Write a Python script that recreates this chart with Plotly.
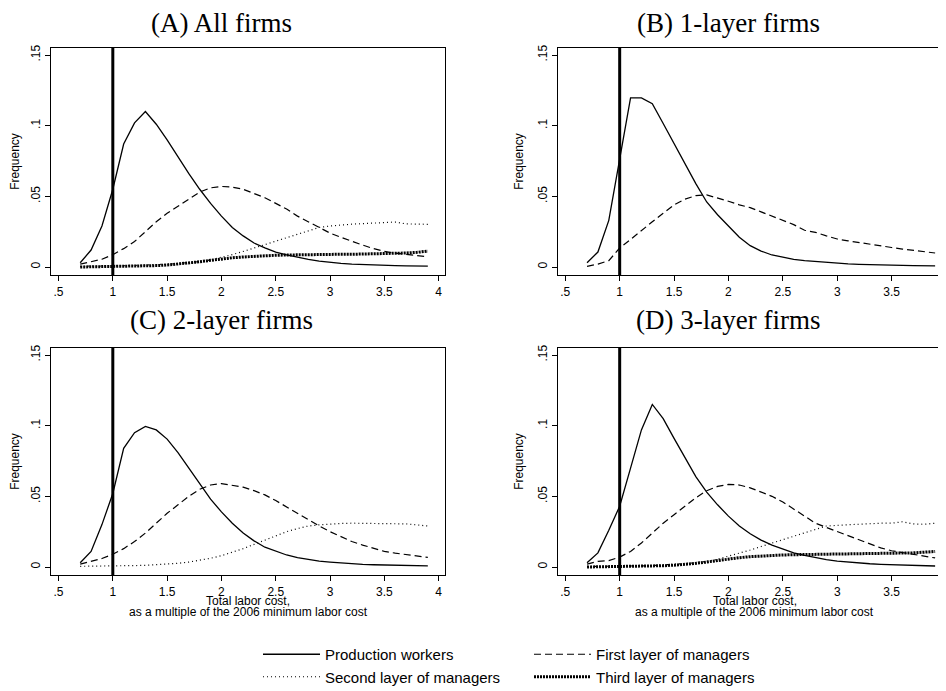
import plotly.graph_objects as go

# ---------------- data ----------------
wage_x = [0.7, 0.8, 0.9, 1.0, 1.1, 1.2, 1.3, 1.4, 1.5, 1.6, 1.7, 1.8, 1.9, 2.0,
          2.1, 2.2, 2.3, 2.4, 2.5, 2.6, 2.7, 2.8, 2.9, 3.0, 3.1, 3.2, 3.3, 3.4,
          3.5, 3.6, 3.7, 3.8, 3.9]

min_wage_multiple = 1.0

series_names = ["Production workers", "First layer of managers",
                "Second layer of managers", "Third layer of managers"]

panel_titles = ["(A) All firms", "(B) 1-layer firms", "(C) 2-layer firms", "(D) 3-layer firms"]

x_title_lines = ["Total labor cost,", "as a multiple of the 2006 minimum labor cost"]

y_tick_vals = [0, 0.05, 0.1, 0.15]
y_tick_text = ["0", ".05", ".1", ".15"]
x_tick_vals = [0.5, 1, 1.5, 2, 2.5, 3, 3.5, 4]
x_tick_text = [".5", "1", "1.5", "2", "2.5", "3", "3.5", "4"]

# Panel A: all firms
prod_A = [0.003, 0.012, 0.029, 0.055, 0.087, 0.102, 0.110, 0.101, 0.090, 0.078, 0.066, 0.055, 0.045, 0.036,
          0.028, 0.022, 0.017, 0.0135, 0.0105, 0.0085, 0.0068, 0.0054, 0.0042, 0.0033, 0.0026, 0.0021, 0.0017,
          0.0014, 0.0012, 0.0010, 0.0008, 0.0007, 0.0006]
first_A = [0.002, 0.0035, 0.0055, 0.0087, 0.013, 0.018, 0.025, 0.032, 0.038, 0.043, 0.048, 0.053, 0.056, 0.057,
           0.0565, 0.055, 0.052, 0.049, 0.045, 0.041, 0.036, 0.032, 0.028, 0.024, 0.021, 0.018, 0.0155,
           0.013, 0.011, 0.0098, 0.0088, 0.0078, 0.0072]
second_A = [0.0005, 0.0005, 0.0006, 0.0008, 0.0009, 0.0011, 0.0013, 0.0016, 0.002, 0.0025, 0.003, 0.0038, 0.005,
            0.0068, 0.0088, 0.011, 0.0135, 0.016, 0.0185, 0.021, 0.0235, 0.026, 0.028, 0.029, 0.0298, 0.0303,
            0.0307, 0.031, 0.0312, 0.0318, 0.0305, 0.0303, 0.0302]
third_A = [0.0, 0.0001, 0.0001, 0.0002, 0.0003, 0.0005, 0.0007, 0.001, 0.0014, 0.002, 0.0028, 0.0037, 0.0047,
           0.0057, 0.0065, 0.0071, 0.0076, 0.008, 0.0083, 0.0085, 0.0087, 0.0088, 0.0089, 0.009, 0.009, 0.009,
           0.0091, 0.0092, 0.0093, 0.0096, 0.0099, 0.0104, 0.0112]

# Panel B: 1-layer firms
prod_B = [0.003, 0.0106, 0.033, 0.075, 0.1196, 0.1196, 0.1156, 0.1015, 0.087, 0.073, 0.059, 0.046, 0.037,
          0.029, 0.021, 0.0151, 0.0113, 0.0085, 0.0068, 0.0054, 0.0045, 0.0038, 0.0031, 0.0026, 0.0022,
          0.0019, 0.0016, 0.0014, 0.0012, 0.0011, 0.001, 0.0009, 0.0008]
first_B = [0.0005, 0.002, 0.0045, 0.0134, 0.0195, 0.026, 0.032, 0.038, 0.044, 0.048, 0.0505, 0.051, 0.049,
           0.0465, 0.044, 0.042, 0.039, 0.036, 0.0335, 0.030, 0.026, 0.0245, 0.022, 0.0198, 0.0185, 0.0172,
           0.016, 0.0148, 0.0138, 0.0127, 0.0117, 0.0107, 0.0099]

# Panel C: 2-layer firms
prod_C = [0.003, 0.011, 0.03, 0.052, 0.084, 0.095, 0.0995, 0.097, 0.0905, 0.081, 0.070, 0.059, 0.048, 0.039,
          0.031, 0.024, 0.0185, 0.014, 0.011, 0.0085, 0.0066, 0.0052, 0.0042, 0.0035, 0.0028, 0.0023, 0.0019,
          0.0016, 0.0014, 0.0012, 0.001, 0.0009, 0.0008]
first_C = [0.002, 0.004, 0.006, 0.009, 0.013, 0.018, 0.024, 0.031, 0.038, 0.044, 0.050, 0.055, 0.058, 0.059,
           0.058, 0.0565, 0.054, 0.051, 0.047, 0.0425, 0.038, 0.033, 0.029, 0.025, 0.0215, 0.018, 0.0155,
           0.013, 0.011, 0.0098, 0.0087, 0.0077, 0.0068]
second_C = [0.0005, 0.0005, 0.0005, 0.0006, 0.0008, 0.001, 0.0012, 0.0015, 0.002, 0.0026, 0.0035, 0.0047,
            0.0062, 0.008, 0.0103, 0.013, 0.016, 0.019, 0.022, 0.025, 0.0272, 0.029, 0.0298, 0.0305, 0.0308,
            0.031, 0.031, 0.031, 0.031, 0.0308, 0.0305, 0.0298, 0.029]

# Panel D: 3-layer firms
prod_D = [0.003, 0.010, 0.026, 0.043, 0.070, 0.097, 0.115, 0.105, 0.091, 0.077, 0.064, 0.053, 0.044, 0.036,
          0.029, 0.0235, 0.019, 0.0155, 0.0125, 0.010, 0.0082, 0.0065, 0.0052, 0.0042, 0.0034, 0.0028, 0.0023,
          0.0019, 0.0016, 0.0013, 0.0011, 0.0009, 0.0007]
first_D = [0.002, 0.004, 0.0045, 0.007, 0.011, 0.017, 0.024, 0.031, 0.037, 0.043, 0.049, 0.054, 0.057, 0.0585,
           0.058, 0.056, 0.053, 0.050, 0.046, 0.041, 0.036, 0.031, 0.028, 0.025, 0.022, 0.019, 0.016, 0.0135,
           0.0115, 0.0102, 0.0092, 0.0078, 0.0064]
second_D = [0.0004, 0.0004, 0.0004, 0.0004, 0.0006, 0.0008, 0.001, 0.0013, 0.0018, 0.0024, 0.0031, 0.004,
            0.0055, 0.0075, 0.0097, 0.012, 0.0145, 0.017, 0.0195, 0.022, 0.0245, 0.027, 0.029, 0.0295, 0.030,
            0.0305, 0.0307, 0.031, 0.031, 0.032, 0.0305, 0.0302, 0.031]
third_D = [0.0, 0.0001, 0.0001, 0.0002, 0.0003, 0.0004, 0.0006, 0.0009, 0.0013, 0.0018, 0.0026, 0.0035, 0.0046,
           0.0058, 0.0066, 0.0073, 0.0078, 0.0082, 0.0085, 0.0087, 0.0088, 0.0089, 0.009, 0.009, 0.009, 0.0091,
           0.0092, 0.0093, 0.0094, 0.0097, 0.01, 0.0105, 0.011]

panels = [
    [prod_A, first_A, second_A, third_A],
    [prod_B, first_B, None, None],
    [prod_C, first_C, second_C, None],
    [prod_D, first_D, second_D, third_D],
]

# ---------------- styles ----------------
# The page body has an 8px margin, so the figure is 16px smaller than the window.
W, H = 938, 683
line_styles = [
    dict(color="black", width=1.3, dash="solid"),
    dict(color="black", width=1.2, dash="7px,4px"),
    dict(color="black", width=1.2, dash="1px,3px"),
    dict(color="black", width=3.0, dash="2px,1px"),
]
legend_of_series = ["legend", "legend2", "legend", "legend2"]

fig = go.Figure()

for p, series in enumerate(panels):
    ax = "" if p == 0 else str(p + 1)
    for s, vals in enumerate(series):
        if vals is None:
            continue
        fig.add_trace(go.Scatter(
            x=wage_x, y=vals, mode="lines", name=series_names[s],
            line=line_styles[s], legendgroup=series_names[s],
            legend=legend_of_series[s],
            showlegend=(p == 0), xaxis="x" + ax, yaxis="y" + ax,
        ))

# domains (figure pixels -> paper)
left_x = [43 / W, 437 / W]
right_x = [550 / W, 1.0]
top_y = [1 - 267 / H, 1 - 40 / H]
bot_y = [1 - 567 / H, 1 - 340 / H]
x_range_left = [0.431, 4.058]
x_range_right = [0.433, 4.0]
y_range = [-0.00566, 0.15495]

sans = "Liberation Sans, Arial, sans-serif"
tick_font = dict(family=sans, size=12, color="black")

def xaxis(domain, rng, anchor):
    return dict(domain=domain, range=rng, anchor=anchor, showgrid=False, zeroline=False,
                showline=True, linecolor="black", linewidth=1.3, mirror=True,
                ticks="outside", ticklen=5, tickwidth=1, tickcolor="black",
                tickvals=x_tick_vals, ticktext=x_tick_text, tickfont=tick_font)

def yaxis(domain, anchor):
    return dict(domain=domain, range=y_range, anchor=anchor, showgrid=False, zeroline=False,
                showline=True, linecolor="black", linewidth=1.3, mirror=True,
                ticks="outside", ticklen=5, tickwidth=1, tickcolor="black",
                tickvals=y_tick_vals, ticktext=y_tick_text, tickangle=-90, tickfont=tick_font,
                title=dict(text="Frequency", font=tick_font, standoff=9))

legend_common = dict(orientation="v", xanchor="left", yanchor="top",
                     font=dict(family=sans, size=15, color="black"),
                     bgcolor="rgba(0,0,0,0)", tracegroupgap=0, itemwidth=57)

fig.update_layout(
    width=W, height=H,
    margin=dict(l=0, r=0, t=0, b=0, autoexpand=False),
    paper_bgcolor="white", plot_bgcolor="white",
    xaxis=xaxis(left_x, x_range_left, "y"),
    yaxis=yaxis(top_y, "x"),
    xaxis2=xaxis(right_x, x_range_right, "y2"),
    yaxis2=yaxis(top_y, "x2"),
    xaxis3=xaxis(left_x, x_range_left, "y3"),
    yaxis3=yaxis(bot_y, "x3"),
    xaxis4=xaxis(right_x, x_range_right, "y4"),
    yaxis4=yaxis(bot_y, "x4"),
    showlegend=True,
    legend=dict(x=250 / W, y=1 - 630 / H, **legend_common),
    legend2=dict(x=521 / W, y=1 - 630 / H, **legend_common),
)

# vertical reference line at the minimum labor cost
for ax in ["", "2", "3", "4"]:
    fig.add_shape(type="line", xref="x" + ax, yref="y" + ax + " domain",
                  x0=min_wage_multiple, x1=min_wage_multiple, y0=0, y1=1,
                  line=dict(color="black", width=3), layer="above")

# panel titles
title_pos = [(213, 15), (720, 15), (213, 312), (720, 312)]
for t, (px, py) in zip(panel_titles, title_pos):
    fig.add_annotation(text=t, xref="paper", yref="paper", x=px / W, y=1 - py / H,
                       xanchor="center", yanchor="middle", showarrow=False,
                       font=dict(family="Liberation Serif, Times New Roman, serif", size=27, color="black"))

# two-line x-axis titles under the bottom panels
for ax, xc in [("x3", (43 + 437) / 2), ("x4", (550 + 943) / 2)]:
    for line, py in zip(x_title_lines, [593, 604]):
        fig.add_annotation(text=line, xref="paper", yref="paper", x=xc / W, y=1 - py / H,
                           xanchor="center", yanchor="middle", showarrow=False, font=tick_font)

fig.write_html("out.html")
